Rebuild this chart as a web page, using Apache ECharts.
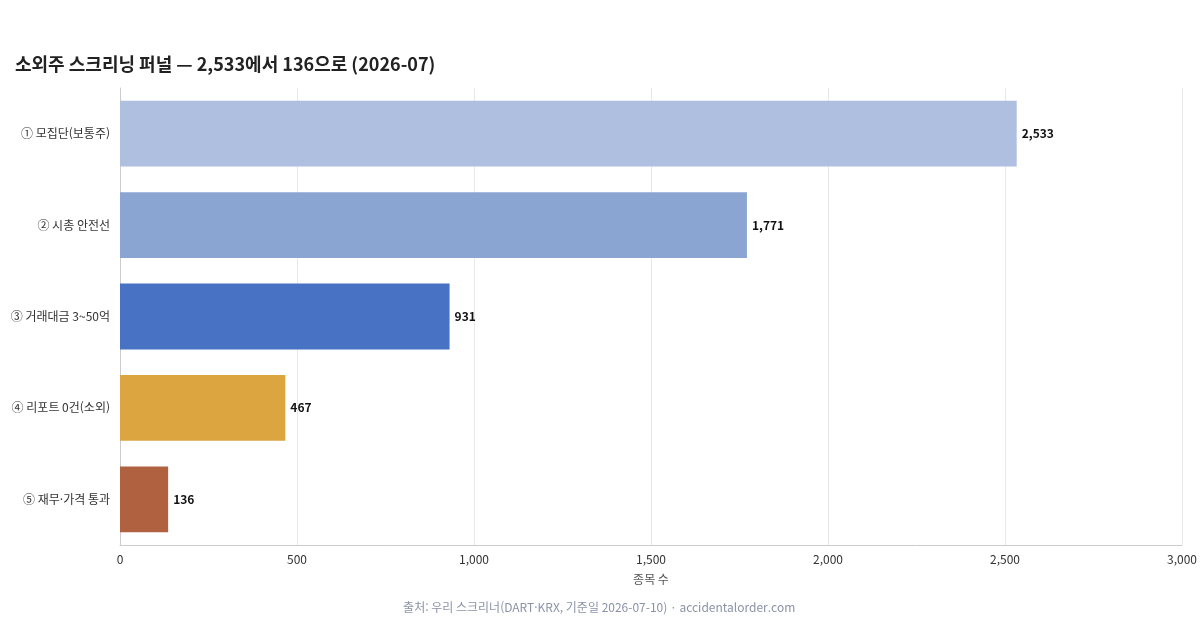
<!DOCTYPE html>
<html lang="ko">
<head>
<meta charset="UTF-8">
<title>소외주 스크리닝 퍼널</title>
<script src="https://cdn.jsdelivr.net/npm/echarts@6/dist/echarts.min.js"></script>
<style>body{margin:0}#main{width:1200px;height:630px}</style>
</head>
<body>
<div id="main"></div>
<script>
var categories = ['① 모집단(보통주)', '② 시총 안전선', '③ 거래대금 3~50억', '④ 리포트 0건(소외)', '⑤ 재무·가격 통과'];
var counts = [2533, 1771, 931, 467, 136];
var colors = ['#aebfdf', '#8ba5d3', '#4873c4', '#dca540', '#b06240'];
var font = '"Noto Sans CJK KR", "Noto Sans", sans-serif';

var chart = echarts.init(document.getElementById('main'));
chart.setOption({
    textStyle: { fontFamily: font },
    title: {
        text: '소외주 스크리닝 퍼널 — 2,533에서 136으로 (2026-07)',
        left: 10, top: 50,
        textStyle: { fontSize: 18, fontWeight: 'bold', color: '#222', fontFamily: font }
    },
    graphic: [{
        type: 'text', left: 'center', top: 601,
        style: { text: '출처: 우리 스크리너(DART·KRX, 기준일 2026-07-10) · accidentalorder.com', fill: '#8a93a6', fontSize: 12, fontFamily: font }
    }],
    grid: { left: 120, right: 18, top: 88, bottom: 85 },
    xAxis: {
        type: 'value', min: 0, max: 3000, interval: 500,
        name: '종목 수', nameLocation: 'middle', nameGap: 28,
        nameTextStyle: { color: '#555', fontSize: 12 },
        axisLabel: { color: '#333', fontSize: 12 },
        axisLine: { show: true, lineStyle: { color: '#ccc' } },
        splitLine: { lineStyle: { color: '#e8e8e8' } }
    },
    yAxis: {
        type: 'category', inverse: true, data: categories,
        axisTick: { show: false },
        axisLine: { lineStyle: { color: '#ccc' } },
        axisLabel: { color: '#333', fontSize: 12, margin: 10 }
    },
    series: [{
        type: 'bar',
        barWidth: '72%',
        data: counts.map(function (v, i) { return { value: v, itemStyle: { color: colors[i] } }; }),
        label: {
            show: true, position: 'right', color: '#111', fontWeight: 'bold', fontSize: 12,
            formatter: function (p) { return p.value.toLocaleString('en-US'); }
        }
    }]
});
</script>
</body>
</html>
